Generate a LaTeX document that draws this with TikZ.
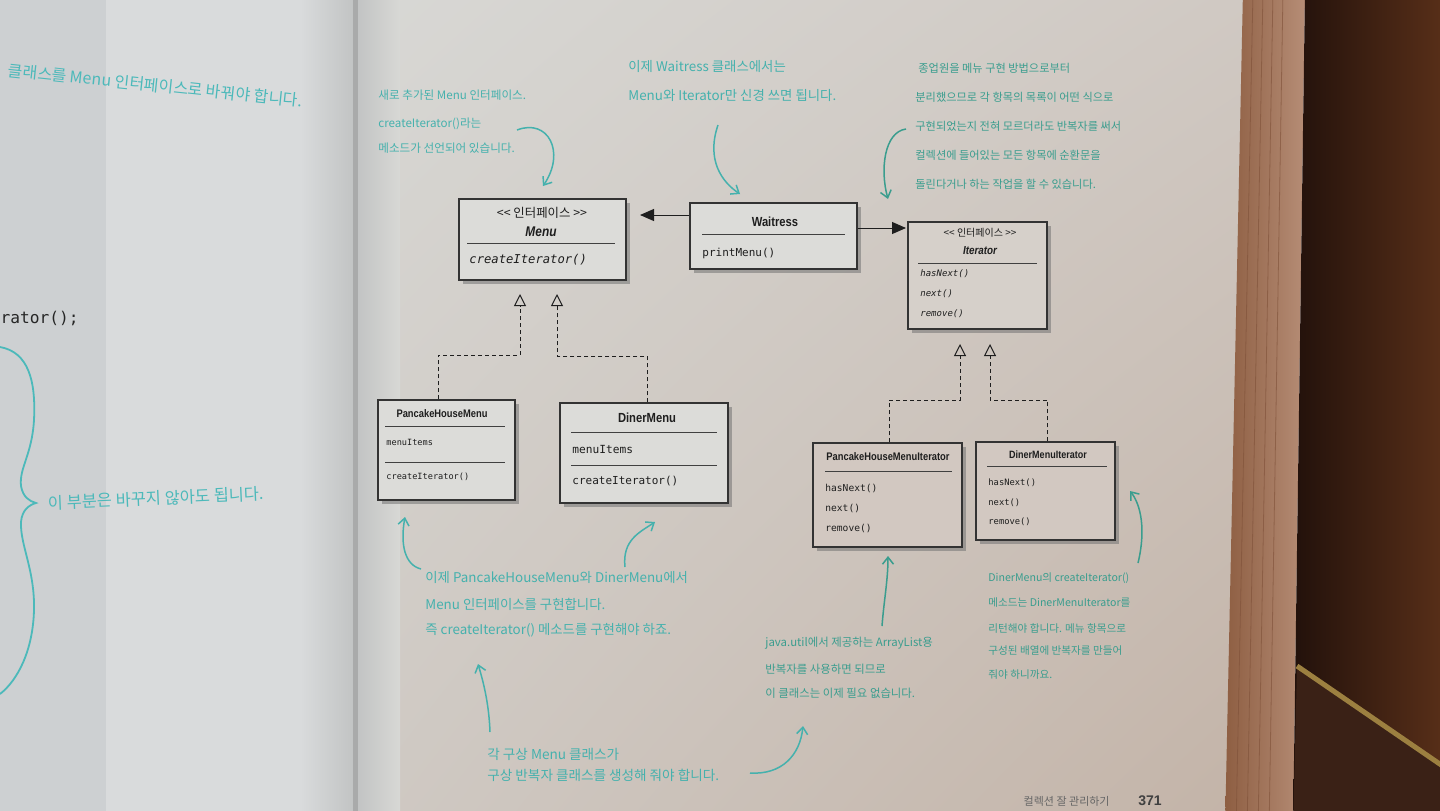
\documentclass[tikz,border=0pt]{standalone}
\usepackage{fontspec}
\setmainfont{Liberation Sans}
\newfontfamily\kr{Noto Sans CJK KR}
\newfontfamily\umlf[FakeStretch=0.85]{Liberation Sans}
\newfontfamily\monof{DejaVu Sans Mono}
\usetikzlibrary{arrows.meta,shadows,fit,calc,shadings}
\definecolor{pageA}{HTML}{CDD0D2}
\definecolor{pageB}{HTML}{D9DBDC}
\definecolor{pageG}{HTML}{C2C4C4}
\definecolor{gutter}{HTML}{A9AAAA}
\definecolor{rpUL}{HTML}{D8D8D5}
\definecolor{rpUR}{HTML}{D0C9C3}
\definecolor{rpLL}{HTML}{CFC9C3}
\definecolor{rpLR}{HTML}{C3B3A7}
\definecolor{stackL}{HTML}{8E5E42}
\definecolor{stackR}{HTML}{B68D76}
\definecolor{stackline}{HTML}{7E5038}
\definecolor{darkL}{HTML}{22110B}
\definecolor{darkR}{HTML}{5A3019}
\definecolor{darkB}{HTML}{3A2116}
\definecolor{gold}{HTML}{9C8040}
\definecolor{boxA}{HTML}{DCDCD9}
\definecolor{boxB}{HTML}{D6D0CA}
\definecolor{boxC}{HTML}{D2C8C1}
\definecolor{ink}{HTML}{1E1E1E}
\definecolor{tealA}{HTML}{45B1AD}
\definecolor{tealB}{HTML}{3A9D8E}
\definecolor{tealL}{HTML}{4CB9BA}
\begin{document}
\begin{tikzpicture}[x=0.5pt,y=-0.5pt,
  umlbox/.style={draw=black!80, line width=0.6pt, inner sep=0pt, fill=#1,
    drop shadow={shadow xshift=2.2pt, shadow yshift=-2.2pt, fill=black!55, opacity=0.55}},
  sepline/.style={draw=black!75, line width=0.4pt},
  ttl/.style={font=\umlf\bfseries\fontsize{#1}{#1}\selectfont, inner sep=0pt, text=ink},
  ttli/.style={font=\umlf\bfseries\itshape\fontsize{#1}{#1}\selectfont, inner sep=0pt, text=ink},
  mth/.style={font=\monof\fontsize{#1}{#1}\selectfont, anchor=west, inner sep=0pt, text=ink},
  mthi/.style={font=\monof\itshape\fontsize{#1}{#1}\selectfont, anchor=west, inner sep=0pt, text=ink},
  stereo/.style={font=\kr\fontsize{#1}{#1}\selectfont, inner sep=0pt, text=ink},
  note/.style={font=\kr\fontsize{#1}{#1}\selectfont, anchor=west, inner sep=0pt},
  assoc/.style={draw=ink, line width=0.5pt, -{Triangle[length=7pt,width=6pt]}},
  realz/.style={draw=ink, line width=0.5pt, dash pattern=on 2pt off 1.5pt, -{Triangle[open,length=6pt,width=6pt]}},
  nar/.style={draw=#1, line width=0.75pt, -{Straight Barb[length=3.5pt,width=5.5pt]}},
]
\useasboundingbox (0,0) rectangle (1440,810);
\clip (0,0) rectangle (1440,810);
% ---------- background ----------
\fill[pageA] (-10,-10) rectangle (106,830);
\fill[pageB] (106,-10) rectangle (302,830);
\shade[left color=pageB, right color=pageG] (300,-10) rectangle (353,830);
\fill[gutter] (353,-10) rectangle (358,830);
\shade[upper left=rpUL, upper right=rpUR, lower left=rpLL, lower right=rpLR] (358,-10) rectangle (1250,830);
\shade[left color=pageG, right color=rpUL] (358,-10) rectangle (400,830);
\shade[left color=stackL, right color=stackR] (1243,-10) -- (1305,-10) -- (1293,830) -- (1225,830) -- cycle;
\foreach \d in {10,20,30,40}{\draw[stackline, line width=0.4pt, opacity=0.6] (1243+\d,-10) -- (1225+\d*1.1,830);}
\shade[left color=darkL, right color=darkR] (1305,-10) -- (1450,-10) -- (1450,830) -- (1293,830) -- cycle;
\fill[darkB] (1297,668) -- (1450,773) -- (1450,830) -- (1293,830) -- cycle;
\draw[gold, line width=2.5pt] (1297,666) -- (1450,771);
% ---------- left page ----------
\node[note=8, text=tealL, rotate=-6, anchor=west] (lp1) at (8,70) {클래스를 Menu 인터페이스로 바꿔야 합니다.};
\node[font=\monof\fontsize{8.1}{8.1}\selectfont, text=black!85, anchor=east, inner sep=0pt] (lp2) at (79,318) {rator();};
\draw[tealL, line width=0.9pt] (0,347) .. controls (28,352) and (36,380) .. (34,420) .. controls (32,455) and (19,468) .. (21,486) .. controls (23,497) and (29,501) .. (36,503) .. controls (29,505) and (22,510) .. (21,522) .. controls (20,545) and (35,570) .. (34,610) .. controls (33,650) and (18,680) .. (0,694);
\node[note=8.2, text=tealL, rotate=2.5] (lp3) at (48,503) {이 부분은 바꾸지 않아도 됩니다.};
% ---------- boxes ----------
\node[umlbox=boxA, fit={(459,199) (626,280)}] (menu) {};
\node[umlbox=boxA, fit={(690,203) (857,269)}] (waitress) {};
\node[umlbox=boxB, fit={(908,222) (1047,329)}] (iterator) {};
\node[umlbox=boxA, fit={(378,400) (515,500)}] (phm) {};
\node[umlbox=boxA, fit={(560,403) (728,503)}] (diner) {};
\node[umlbox=boxC, fit={(813,443) (962,547)}] (phmi) {};
\node[umlbox=boxC, fit={(976,442) (1115,540)}] (dmi) {};
% Menu
\node[stereo=6.2] (menuSt) at (542,213) {<\kern0pt< 인터페이스 >\kern0pt>};
\node[ttli=7] (menuNm) at (541,232) {Menu};
\draw[sepline] (467,243) -- (615,243);
\node[mthi=6.1] (menuM1) at (469,260) {createIterator()};
% Waitress
\node[ttl=6.6] (waitNm) at (775,222) {Waitress};
\draw[sepline] (702,234) -- (845,234);
\node[mth=5.5] (waitM1) at (702,253) {printMenu()};
% Iterator
\node[stereo=5] (itSt) at (980,233) {<\kern0pt< 인터페이스 >\kern0pt>};
\node[ttli=5.8] (itNm) at (980,251) {Iterator};
\draw[sepline] (918,263) -- (1037,263);
\node[mthi=4.5] (itM1) at (920,274) {hasNext()};
\node[mthi=4.5] (itM2) at (920,294) {next()};
\node[mthi=4.5] (itM3) at (920,314) {remove()};
% PancakeHouseMenu
\node[ttl=5.5] (phmNm) at (442,414) {PancakeHouseMenu};
\draw[sepline] (385,426) -- (505,426);
\node[mth=4.3] (phmA) at (386,442) {menuItems};
\draw[sepline] (385,462) -- (505,462);
\node[mth=4.3] (phmM) at (386,477) {createIterator()};
% DinerMenu
\node[ttl=6.6] (dinNm) at (647,418) {DinerMenu};
\draw[sepline] (571,432) -- (717,432);
\node[mth=5.6] (dinA) at (572,449) {menuItems};
\draw[sepline] (571,465) -- (717,465);
\node[mth=5.5] (dinM) at (572,481) {createIterator()};
% PancakeHouseMenuIterator
\node[ttl=5.5] (phmiNm) at (888,457) {PancakeHouseMenuIterator};
\draw[sepline] (825,471) -- (952,471);
\node[mth=4.8] (phmiM1) at (825,488) {hasNext()};
\node[mth=4.8] (phmiM2) at (825,508) {next()};
\node[mth=4.8] (phmiM3) at (825,528) {remove()};
% DinerMenuIterator
\node[ttl=5.3] (dmiNm) at (1048,455) {DinerMenuIterator};
\draw[sepline] (987,466) -- (1107,466);
\node[mth=4.4] (dmiM1) at (988,483) {hasNext()};
\node[mth=4.4] (dmiM2) at (988,503) {next()};
\node[mth=4.4] (dmiM3) at (988,522) {remove()};
% ---------- connectors ----------
\coordinate (wm) at (640,215);
\coordinate (wi) at (906,228);
\draw[assoc] (waitress.west |- wm) -- (wm);
\draw[assoc] (waitress.east |- wi) -- (wi);
\coordinate (t1) at (520,294); \coordinate (j1) at (520,355);
\coordinate (t2) at (557,294); \coordinate (j2) at (557,356);
\coordinate (t3) at (960,344); \coordinate (j3) at (960,400);
\coordinate (t4) at (990,344); \coordinate (j4) at (990,400);
\draw[realz] ([xshift=-4pt]phm.north) |- (j1) -- (t1);
\draw[realz] ([xshift=1.5pt]diner.north) |- (j2) -- (t2);
\draw[realz] ([xshift=1pt]phmi.north) |- (j3) -- (t3);
\draw[realz] ([xshift=1pt]dmi.north) |- (j4) -- (t4);
% ---------- annotations ----------
\node[note=5.8, text=tealA] (a1) at (378,95) {새로 추가된 Menu 인터페이스.};
\node[note=5.8, text=tealA] (a2) at (378,124) {createIterator()라는};
\node[note=5.8, text=tealA] (a3) at (378,148) {메소드가 선언되어 있습니다.};
\node[note=6.7, text=tealA] (b1) at (628,66) {이제 Waitress 클래스에서는};
\node[note=6.7, text=tealA] (b2) at (628,95) {Menu와 Iterator만 신경 쓰면 됩니다.};
\node[note=5.6, text=tealB] (c1) at (918,68) {종업원을 메뉴 구현 방법으로부터};
\node[note=5.6, text=tealB] (c2) at (915,97) {분리했으므로 각 항목의 목록이 어떤 식으로};
\node[note=5.6, text=tealB] (c3) at (915,126) {구현되었는지 전혀 모르더라도 반복자를 써서};
\node[note=5.6, text=tealB] (c4) at (915,155) {컬렉션에 들어있는 모든 항목에 순환문을};
\node[note=5.6, text=tealB] (c5) at (915,184) {돌린다거나 하는 작업을 할 수 있습니다.};
\node[note=6.7, text=tealA] (d1) at (425,577) {이제 PancakeHouseMenu와 DinerMenu에서};
\node[note=6.7, text=tealA] (d2) at (425,604) {Menu 인터페이스를 구현합니다.};
\node[note=6.7, text=tealA] (d3) at (425,630) {즉 createIterator() 메소드를 구현해야 하죠.};
\node[note=5.7, text=tealB] (e1) at (765,643) {java.util에서 제공하는 ArrayList용};
\node[note=5.7, text=tealB] (e2) at (765,669) {반복자를 사용하면 되므로};
\node[note=5.7, text=tealB] (e3) at (765,693) {이 클래스는 이제 필요 없습니다.};
\node[note=5.3, text=tealB] (f1) at (988,578) {DinerMenu의 createIterator()};
\node[note=5.3, text=tealB] (f2) at (988,603) {메소드는 DinerMenuIterator를};
\node[note=5.3, text=tealB] (f3) at (988,628) {리턴해야 합니다. 메뉴 항목으로};
\node[note=5.3, text=tealB] (f4) at (988,651) {구성된 배열에 반복자를 만들어};
\node[note=5.3, text=tealB] (f5) at (988,675) {줘야 하니까요.};
\node[note=6.8, text=tealA] (g1) at (487,754) {각 구상 Menu 클래스가};
\node[note=6.8, text=tealA] (g2) at (487,775) {구상 반복자 클래스를 생성해 줘야 합니다.};
% teal arrows
\coordinate (n1s) at (517,130); \coordinate (n1e) at (543,186);
\draw[nar=tealA] (n1s) .. controls (548,118) and (566,152) .. (n1e);
\coordinate (n2s) at (718,125); \coordinate (n2e) at (740,194);
\draw[nar=tealA] (n2s) .. controls (706,160) and (722,182) .. (n2e);
\coordinate (n3s) at (906,129); \coordinate (n3e) at (888,199);
\draw[nar=tealB] (n3s) .. controls (884,132) and (880,170) .. (n3e);
\coordinate (n4s) at (421,569); \coordinate (n4e) at (405,517);
\draw[nar=tealA] (n4s) .. controls (405,565) and (400,545) .. (n4e);
\coordinate (n5s) at (625,567); \coordinate (n5e) at (655,522);
\draw[nar=tealA] (n5s) .. controls (622,540) and (640,532) .. (n5e);
\coordinate (n6s) at (490,732); \coordinate (n6e) at (478,664);
\draw[nar=tealA] (n6s) .. controls (489,705) and (484,684) .. (n6e);
\coordinate (n7s) at (750,773); \coordinate (n7e) at (803,726);
\draw[nar=tealA] (n7s) .. controls (782,775) and (800,755) .. (n7e);
\coordinate (n8s) at (882,626); \coordinate (n8e) at (888,556);
\draw[nar=tealB] (n8s) .. controls (884,600) and (888,580) .. (n8e);
\coordinate (n9s) at (1138,563); \coordinate (n9e) at (1130,491);
\draw[nar=tealB] (n9s) .. controls (1146,530) and (1141,505) .. (n9e);
% footer
\node[font=\kr\fontsize{5.5}{5.5}\selectfont, text=black!60, anchor=east, inner sep=0pt] (foot) at (1110,801) {컬렉션 잘 관리하기};
\node[font=\bfseries\fontsize{7}{7}\selectfont, text=black!75, inner sep=0pt] (pnum) at (1150,801) {371};
\end{tikzpicture}
\end{document}
